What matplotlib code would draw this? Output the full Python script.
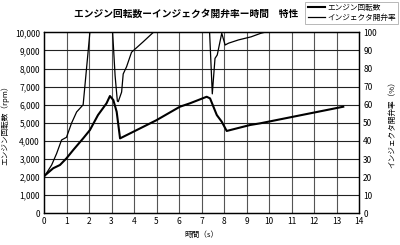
import matplotlib
matplotlib.use("Agg")
import matplotlib.pyplot as plt
from matplotlib.ticker import FuncFormatter

plt.rcParams['font.family'] = ['Noto Sans CJK JP', 'DejaVu Sans']

# Engine speed (rpm)
eng_t = [0.0, 0.41, 0.71, 1.0, 1.3, 1.74, 2.04, 2.4, 2.78, 2.93, 3.08, 3.23, 3.38,
         4.99, 6.04, 6.49, 7.23, 7.38, 7.68, 7.9, 8.12, 9.16, 9.6, 13.3]
eng_v = [2050, 2490, 2670, 3040, 3500, 4140, 4600, 5430, 6080, 6480, 6260, 5610, 4140,
         5140, 5890, 6080, 6440, 6350, 5430, 5060, 4550, 4880, 4970, 5890]

# Injector opening rate (%)
inj_t = [0.0, 0.34, 0.56, 0.78, 1.0, 1.22, 1.45, 1.67, 1.74, 1.89, 2.04, 3.05, 3.16,
         3.26, 3.3, 3.45, 3.52, 3.67, 3.89, 4.41, 4.86, 7.36, 7.48, 7.6, 7.7, 7.9,
         8.05, 8.2, 8.64, 9.2, 9.64, 9.8, 13.3]
inj_v = [20, 26.7, 33, 40.5, 42, 49.7, 56, 59, 60, 80, 100, 100, 76,
         62, 61.7, 67, 77, 81, 89, 94.8, 100, 100, 66, 85.6, 87.5, 99.5,
         93, 94, 95.8, 97.5, 99.5, 100, 100]

x_ticks = list(range(0, 15))
left_ticks = list(range(0, 10001, 1000))
right_ticks = list(range(0, 101, 10))

fig = plt.figure(figsize=(4.0, 2.45), dpi=100)
ax = fig.add_axes([0.11, 0.1294, 0.7875, 0.7386])
ax2 = ax.twinx()

ax.set_xlim(0, 14)
ax.set_ylim(0, 10000)
ax2.set_ylim(0, 100)
ax.set_xticks(x_ticks)
ax.set_yticks(left_ticks)
ax2.set_yticks(right_ticks)
ax.yaxis.set_major_formatter(FuncFormatter(lambda v, p: f"{int(v):,}"))

for t in x_ticks[1:-1]:
    ax.axvline(t, color='#555555', lw=0.8, zorder=0)
for v in left_ticks[1:-1]:
    ax.axhline(v, color='#222222', lw=0.8, zorder=0)

l1, = ax.plot(eng_t, eng_v, color='black', lw=1.5, zorder=3)
l2, = ax2.plot(inj_t, inj_v, color='black', lw=0.9, zorder=3)

for a in (ax, ax2):
    for s in a.spines.values():
        s.set_color('black')
        s.set_linewidth(0.9)
    a.tick_params(length=0, labelsize=6, pad=3)

ax.set_ylabel('エンジン回転数（rpm）', fontsize=5.5, labelpad=4)
ax2.set_ylabel('インジェクタ開弁率（%）', fontsize=5.5, labelpad=8, rotation=90)
ax.set_xlabel('時間（s）', fontsize=5.5, labelpad=3)

fig.text(0.465, 0.945, 'エンジン回転数ーインジェクタ開弁率ー時間　特性', fontsize=7,
         ha='center', va='center', style='italic', weight='bold')

leg = fig.legend([l1, l2], ['エンジン回転数', 'インジェクタ開弁率'],
                 loc='upper right', bbox_to_anchor=(1.0, 1.0), fontsize=5.5,
                 frameon=True, fancybox=False, edgecolor='#999999',
                 handlelength=2.2, handletextpad=0.4, borderpad=0.3,
                 labelspacing=0.3, borderaxespad=0.2)
leg.get_frame().set_linewidth(0.6)

fig.savefig('out.png', dpi=100, facecolor='white')
